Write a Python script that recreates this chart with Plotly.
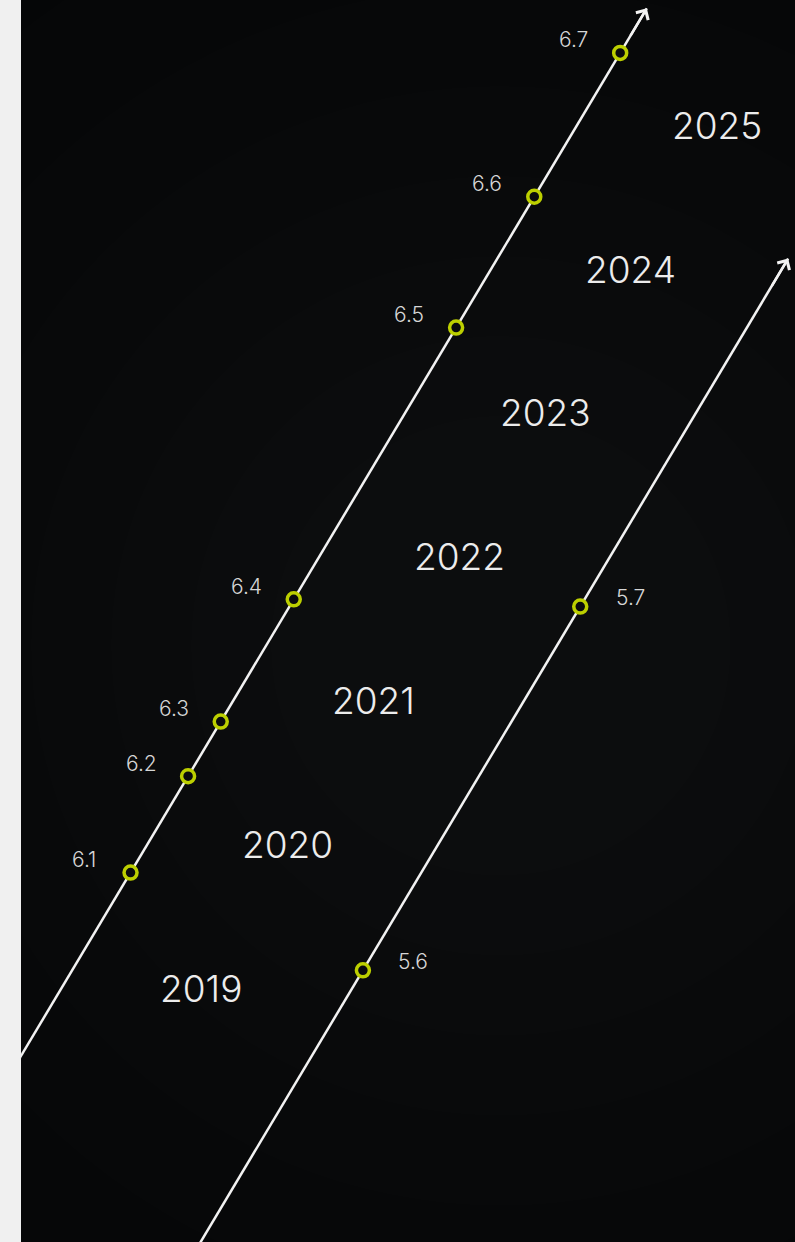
import plotly.graph_objects as go

# ---------------- data ----------------
years = [2019, 2020, 2021, 2022, 2023, 2024, 2025]

# upper line: release positions (fractional year) and values
line1_labels = ["6.1", "6.2", "6.3", "6.4", "6.5", "6.6", "6.7"]
line1_times = [2020.31, 2020.98, 2021.36, 2022.21, 2024.10, 2025.01, 2026.01]
line1_span = [2018.9, 2026.32]

# lower line
line2_labels = ["5.6", "5.7"]
line2_times = [2019.63, 2022.16]
line2_span = [2017.5, 2024.58]

# horizontal lane offsets (in year units) of each diagonal track
LANE_1 = -1.665
LANE_2 = 1.72
LANE_YEARS = -0.03

# ---------------- style ----------------
BG = "#050607"
MARK = "#bccf00"
FONT = "Inter, Lato, 'Open Sans', sans-serif"


def xs(times, lane):
    return [t + lane for t in times]


fig = go.Figure()

for span, lane in ((line1_span, LANE_1), (line2_span, LANE_2)):
    fig.add_trace(go.Scatter(
        x=xs(span, lane), y=span, mode="lines",
        line=dict(color="#f2f2f2", width=2.5), hoverinfo="skip", showlegend=False,
    ))

for times, lane in ((line1_times, LANE_1), (line2_times, LANE_2)):
    fig.add_trace(go.Scatter(
        x=xs(times, lane), y=times, mode="markers",
        marker=dict(symbol="circle", size=13, color="#0a0b0d",
                    line=dict(color=MARK, width=3.5)),
        hoverinfo="skip", showlegend=False,
    ))

annotations = []

# year labels centred in their year interval
for y in years:
    t = y + 0.5
    annotations.append(dict(
        x=t + LANE_YEARS, y=t, text=str(y), showarrow=False, yshift=1,
        font=dict(family=FONT, size=37, color="#ececec", weight=300),
    ))

for lab, t in zip(line1_labels, line1_times):
    annotations.append(dict(
        x=t + LANE_1, y=t, text=lab, showarrow=False, xshift=-47, yshift=13,
        font=dict(family=FONT, size=21, color="#d6d6d6", weight=300),
    ))
for lab, t in zip(line2_labels, line2_times):
    annotations.append(dict(
        x=t + LANE_2, y=t, text=lab, showarrow=False, xshift=50, yshift=9,
        font=dict(family=FONT, size=21, color="#d6d6d6", weight=300),
    ))

# arrow heads at the end of each track
for span, lane in ((line1_span, LANE_1), (line2_span, LANE_2)):
    tip = span[1]
    tail = tip - 0.2
    annotations.append(dict(
        x=tip + lane, y=tip, ax=tail + lane, ay=tail, xref="x", yref="y",
        axref="x", ayref="y", text="", showarrow=True, arrowhead=4,
        arrowsize=1.1, arrowwidth=2.5, arrowcolor="#f2f2f2", standoff=0,
    ))

# soft background glow
shapes = []
cx, cy = 0.62, 0.48
W, H = 774.0, 1242.0
for r in [780, 660, 560, 470, 390, 310, 230]:
    shapes.append(dict(
        type="circle", xref="paper", yref="paper", layer="below",
        x0=cx - r / W, x1=cx + r / W, y0=cy - r / H, y1=cy + r / H,
        fillcolor="rgba(200,215,235,0.0065)", line=dict(width=0),
    ))

fig.update_layout(
    width=795, height=1242,
    margin=dict(l=21, r=0, t=0, b=0),
    paper_bgcolor="#f0f0f0", plot_bgcolor=BG,
    xaxis=dict(range=[2017.37, 2026.38], visible=False, fixedrange=True),
    yaxis=dict(range=[2017.741, 2026.378], visible=False, fixedrange=True),
    annotations=annotations, shapes=shapes,
    showlegend=False,
)

fig.write_html(
    "out.html",
    config={"displayModeBar": False},
    post_script="document.body.style.margin='0';document.body.style.overflow='hidden';",
)
